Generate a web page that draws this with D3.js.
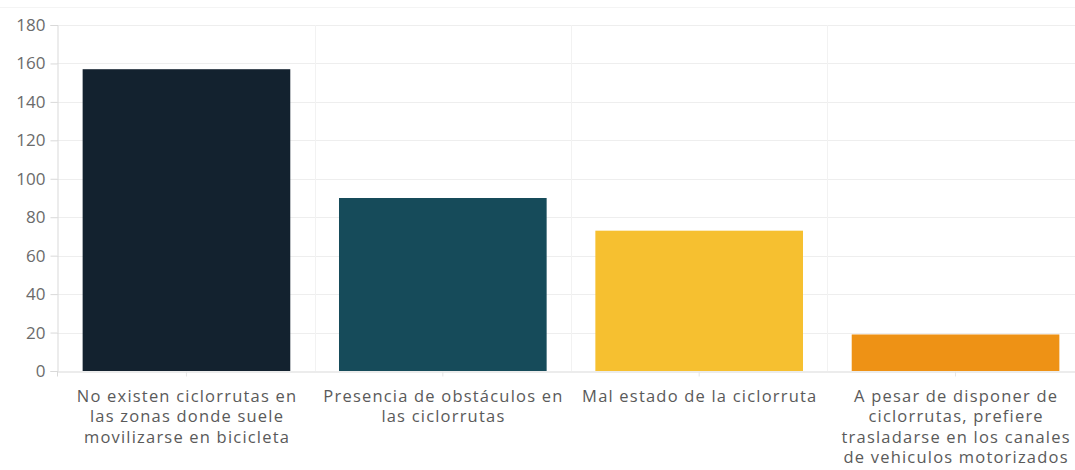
<html>
<head>
<meta charset="utf-8">
<title>Ciclorrutas</title>
<script src="https://cdn.jsdelivr.net/npm/d3@7"></script>
<style>
  body { margin: 0; background: #fff; }
  text { font-family: "Open Sans", Lato, sans-serif; }
</style>
</head>
<body>
<div id="chart"></div>
<script>
  // categorias (etiquetas en varias lineas)
  var categories = [
    ["No existen ciclorrutas en", "las zonas donde suele", "movilizarse en bicicleta"],
    ["Presencia de obstáculos en", "las ciclorrutas"],
    ["Mal estado de la ciclorruta"],
    ["A pesar de disponer de", "ciclorrutas, prefiere", "trasladarse en los canales", "de vehiculos motorizados"]
  ];
  var values = [157, 90, 73, 19];
  var colors = ["#13222f", "#164b5a", "#f6c030", "#ee9215"];
  var yTicks = [0, 20, 40, 60, 80, 100, 120, 140, 160, 180];

  var width = 1075, height = 470;
  var mLeft = 57, mTop = 25, mBottom = 371;

  var svg = d3.select("#chart").append("svg")
      .attr("width", width)
      .attr("height", height);

  var x = d3.scaleBand()
      .domain(d3.range(categories.length))
      .range([mLeft, 1085])
      .paddingInner(0.19)
      .paddingOuter(0.1);

  var y = d3.scaleLinear()
      .domain([0, 180])
      .range([mBottom, mTop]);

  // linea superior tenue
  svg.append("line")
      .attr("x1", 0).attr("x2", width)
      .attr("y1", 7.5).attr("y2", 7.5)
      .attr("stroke", "#f4f4f4");

  // grid horizontal
  svg.append("g").selectAll("line")
    .data(yTicks.filter(function(d){ return d > 0; }))
    .enter().append("line")
      .attr("x1", mLeft).attr("x2", width)
      .attr("y1", function(d){ return Math.round(y(d)) + 0.5; })
      .attr("y2", function(d){ return Math.round(y(d)) + 0.5; })
      .attr("stroke", "#eeeeee");

  // grid vertical entre categorias
  var step = x.step();
  svg.append("g").selectAll("line")
    .data(d3.range(1, categories.length))
    .enter().append("line")
      .attr("x1", function(i){ return Math.round(x(i) - (step - x.bandwidth()) / 2) + 0.5; })
      .attr("x2", function(i){ return Math.round(x(i) - (step - x.bandwidth()) / 2) + 0.5; })
      .attr("y1", mTop).attr("y2", mBottom)
      .attr("stroke", "#f2f2f2");

  // barras
  svg.append("g").selectAll("rect")
    .data(values)
    .enter().append("rect")
      .attr("x", function(d, i){ return x(i); })
      .attr("y", function(d){ return y(d); })
      .attr("width", x.bandwidth())
      .attr("height", function(d){ return mBottom - y(d); })
      .attr("fill", function(d, i){ return colors[i]; });

  // eje y
  var yAxis = svg.append("g")
      .attr("transform", "translate(" + (mLeft + 0.5) + ",0)")
      .call(d3.axisLeft(y).tickValues(yTicks).tickSize(7).tickPadding(5));
  yAxis.select(".domain").attr("stroke", "#d9d9d9");
  yAxis.selectAll(".tick line").attr("stroke", "#d9d9d9");
  yAxis.selectAll(".tick text")
      .attr("fill", "#6b6b6b")
      .style("font-size", "17px")
      .style("font-family", "'Open Sans', Lato, sans-serif");

  // eje x
  var xAxis = svg.append("g")
      .attr("transform", "translate(0," + (mBottom + 0.5) + ")")
      .call(d3.axisBottom(x).tickSize(5).tickFormat(""));
  xAxis.select(".domain").attr("stroke", "#d9d9d9");
  xAxis.selectAll(".tick line").attr("stroke", "#e6e6e6");

  // etiquetas de categoria
  var labels = svg.append("g").selectAll("text")
    .data(categories)
    .enter().append("text")
      .attr("x", function(d, i){ return x(i) + x.bandwidth() / 2 + 0.6; })
      .attr("y", 402)
      .attr("text-anchor", "middle")
      .attr("fill", "#5a5a5a")
      .style("font-size", "16.5px")
      .style("letter-spacing", "1.2px");
  labels.selectAll("tspan")
    .data(function(d){ return d; })
    .enter().append("tspan")
      .attr("x", function(){ return d3.select(this.parentNode).attr("x"); })
      .attr("dy", function(d, i){ return i === 0 ? 0 : 20.3; })
      .text(function(d){ return d; });
</script>
</body>
</html>
